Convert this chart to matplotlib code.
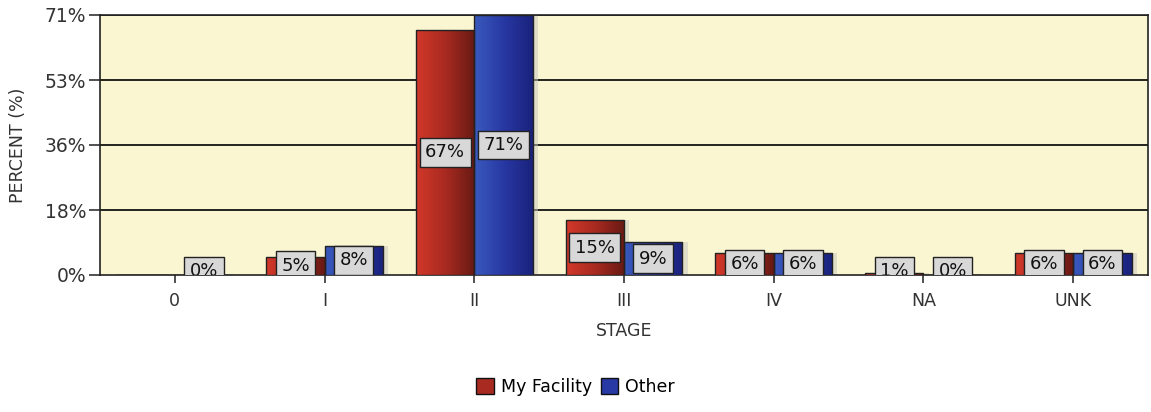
import numpy as np
import matplotlib
matplotlib.use("Agg")
import matplotlib.pyplot as plt
from matplotlib.colors import LinearSegmentedColormap
from matplotlib.patches import Patch

categories = ["0", "I", "II", "III", "IV", "NA", "UNK"]
my_facility = [0, 5, 67, 15, 6, 0.6, 6]
other = [0, 8, 71, 9, 6, 0, 6]
my_labels = ["", "5%", "67%", "15%", "6%", "1%", "6%"]
other_labels = ["0%", "8%", "71%", "9%", "6%", "0%", "6%"]
yticks = [0, 17.75, 35.5, 53.25, 71]
ytick_labels = ["0%", "18%", "36%", "53%", "71%"]

plt.rcParams['font.family'] = ['DejaVu Sans']

fig = plt.figure(figsize=(11.51, 4.12), dpi=100)
ax = fig.add_axes([100/1151, 1 - 275/412, 1048/1151, 260/412])
ax.set_facecolor("#faf6d2")

x = np.arange(len(categories))
w = 0.39

red_cmap = LinearSegmentedColormap.from_list("r", ["#d2382a", "#a82a20", "#681a14"])
blue_cmap = LinearSegmentedColormap.from_list("b", ["#3a5abc", "#2838a4", "#1a227c"])
grad = np.linspace(0, 1, 64).reshape(1, -1)

for gy in yticks[1:]:
    ax.axhline(gy, color="black", lw=1.2, zorder=1)

def draw(xs, vals, cmap, labels):
    ax.bar(xs + 0.035, vals, w, color="#c8c8c0", alpha=0.5, zorder=2, linewidth=0)
    bars = ax.bar(xs, vals, w, color="none", edgecolor="#222222", linewidth=1.0, zorder=4)
    for b in bars:
        h = b.get_height()
        if h <= 0:
            continue
        im = ax.imshow(grad, cmap=cmap, aspect="auto",
                       extent=[b.get_x(), b.get_x() + b.get_width(), 0, h],
                       zorder=3, interpolation="bilinear")
        im.set_clip_path(b)
    for xi, v, lab in zip(xs, vals, labels):
        if not lab:
            continue
        ax.text(xi, max(v / 2, 1.0), lab, ha="center", va="center", fontsize=13, color="#111111",
                zorder=6, clip_on=True,
                bbox=dict(boxstyle="square,pad=0.3", fc="#d8d8d8", ec="#222222", lw=1.0))

draw(x - w / 2, my_facility, red_cmap, my_labels)
draw(x + w / 2, other, blue_cmap, other_labels)

ax.set_xlim(-0.5, len(categories) - 0.5)
ax.set_ylim(0, 71)
ax.set_yticks(yticks)
ax.set_yticklabels(ytick_labels, fontsize=13.5, color="#333333")
ax.set_xticks(x)
ax.set_xticklabels(categories, fontsize=12.5, color="#333333")
ax.tick_params(axis="y", length=8, width=1.2, color="#333333", pad=2)
ax.tick_params(axis="x", length=6, width=1.2, color="#333333", pad=6)
for s in ax.spines.values():
    s.set_color("#222222")
    s.set_linewidth(1.2)
ax.set_ylabel("PERCENT (%)", fontsize=12.5, color="#333333")
ax.yaxis.set_label_coords(-73/1048, 0.5)
ax.set_xlabel("STAGE", fontsize=12.5, color="#333333", labelpad=9)

handles = [Patch(facecolor="#a82a20", edgecolor="#111111"), Patch(facecolor="#2838a4", edgecolor="#111111")]
fig.legend(handles, ["My Facility", "Other"], loc="center", bbox_to_anchor=(0.5, 1 - 387/412),
           ncol=2, frameon=False, fontsize=12.5, handlelength=1.0, handleheight=1.0,
           handletextpad=0.4, columnspacing=0.5)

fig.savefig("out.png", dpi=100, facecolor="white")
